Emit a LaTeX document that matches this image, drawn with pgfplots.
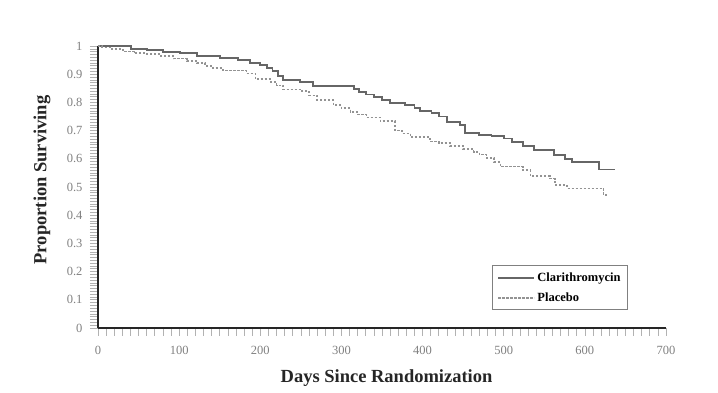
\documentclass[border=0pt]{standalone}
\usepackage{fontspec}
\setmainfont{Liberation Serif}
\usepackage{pgfplots}
\pgfplotsset{compat=1.18}
\begin{document}
\begin{tikzpicture}[x=1pt,y=1pt]
\useasboundingbox (-98,-65) rectangle (620,328);
\begin{axis}[
  scale only axis, width=568pt, height=282pt,
  at={(0,0)}, anchor=south west,
  xmin=0, xmax=700, ymin=0, ymax=1,
  axis x line*=bottom, axis y line*=left,
  axis line style={line width=2pt, black!85, -},
  xtick={0,100,200,300,400,500,600,700},
  ytick={0,0.1,0.2,0.3,0.4,0.5,0.6,0.7,0.8,0.9,1},
  minor x tick num=9, minor y tick num=9,
  tick align=outside, major tick length=8pt, minor tick length=8pt,
  every tick/.style={gray!60, line width=0.7pt},
  every minor tick/.style={gray!60, line width=0.6pt},
  ticklabel style={font=\fontsize{12.5}{13}\selectfont, text=gray},
  xticklabel style={yshift=-7pt},
  yticklabel style={xshift=-4pt, /pgf/number format/fixed},
  /pgf/number format/assume math mode=true,
  xlabel={Days Since Randomization},
  ylabel={Proportion Surviving},
  xlabel style={at={(rel axis cs:0.508,-0.177)}, anchor=center, font=\fontsize{18.5}{20}\selectfont\bfseries, text=black!85},
  ylabel style={at={(rel axis cs:-0.0986,0.525)}, anchor=center, rotate=0, font=\fontsize{18.5}{20}\selectfont\bfseries, text=black!85},
  legend style={at={(0.6937,0.2234)}, anchor=north west, draw=gray, line width=1pt,
    font=\fontsize{12.5}{14}\selectfont\bfseries, row sep=6pt, inner xsep=5pt, inner ysep=5pt},
  legend cell align=left,
  legend image code/.code={\draw[#1] (0pt,0pt) -- (36pt,0pt);},
  clip=false,
]
\addplot[const plot, color=black!60, line width=1.9pt] coordinates {
(0,1.0) (41,0.99) (60,0.985) (80,0.98) (101,0.974) (122,0.965) (150,0.956)
(173,0.95) (187,0.94) (200,0.932) (208,0.921) (215,0.91) (222,0.895) (228,0.879)
(249,0.873) (265,0.858) (315,0.848) (322,0.838) (330,0.828) (340,0.818) (350,0.81)
(360,0.797) (378,0.79) (390,0.78) (397,0.768) (411,0.761) (420,0.75) (430,0.73)
(446,0.72) (452,0.69) (470,0.685) (485,0.68) (500,0.672) (510,0.66) (524,0.645)
(537,0.632) (562,0.614) (576,0.60) (584,0.59) (617,0.562) (637,0.562)
};
\addlegendentry{Clarithromycin}
\addplot[const plot, color=gray!85, line width=1.6pt, dash pattern=on 2.2pt off 1.8pt] coordinates {
(0,1.0) (5,0.995) (15,0.99) (31,0.98) (45,0.976) (60,0.972) (75,0.965) (93,0.955)
(110,0.946) (122,0.939) (132,0.93) (142,0.921) (154,0.913) (183,0.903) (194,0.882)
(212,0.873) (220,0.86) (228,0.846) (249,0.841) (260,0.825) (270,0.809) (290,0.791)
(300,0.78) (311,0.767) (320,0.757) (331,0.747) (348,0.733) (366,0.70) (375,0.69)
(385,0.677) (409,0.661) (420,0.655) (434,0.645) (450,0.635) (463,0.625) (470,0.615)
(479,0.602) (488,0.588) (496,0.572) (524,0.56) (533,0.54) (557,0.53) (563,0.508)
(578,0.495) (623,0.472) (627,0.472)
};
\addlegendentry{Placebo}
\end{axis}
\end{tikzpicture}
\end{document}
